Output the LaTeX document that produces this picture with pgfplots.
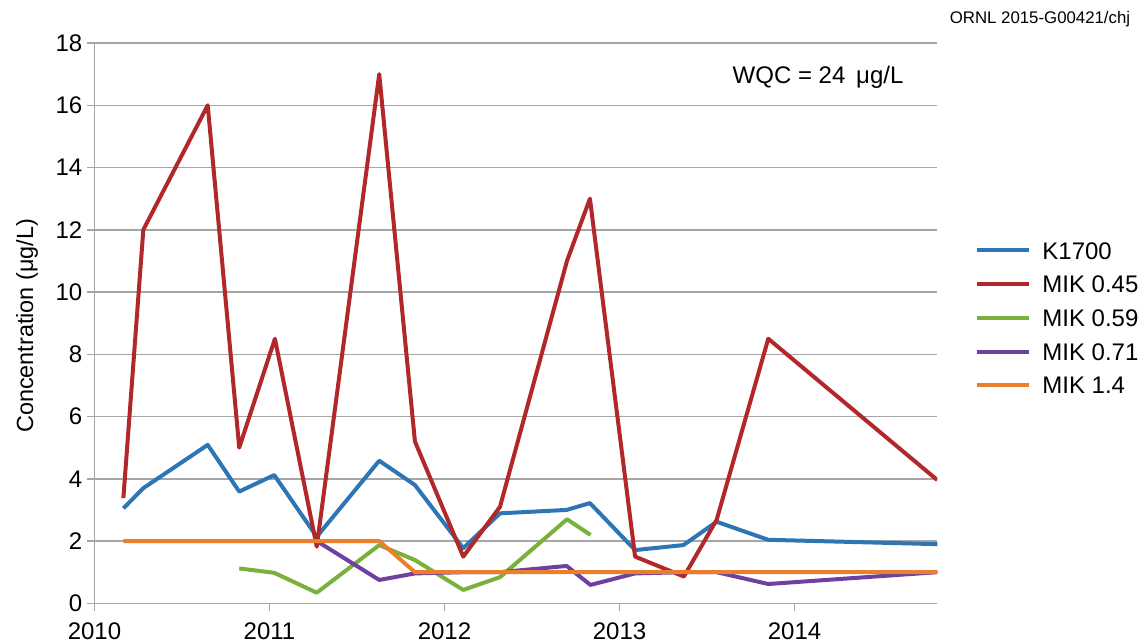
\documentclass[border=0pt]{standalone}
\usepackage{pgfplots}
\pgfplotsset{compat=1.18}
\usepackage{fontspec}
\setmainfont{Liberation Sans}

\definecolor{cK}{RGB}{46,117,182}
\definecolor{c45}{RGB}{178,40,42}
\definecolor{c59}{RGB}{122,176,60}
\definecolor{c71}{RGB}{112,64,160}
\definecolor{c14}{RGB}{234,128,44}
\definecolor{gridc}{RGB}{166,166,166}

\begin{document}
\begin{tikzpicture}
\useasboundingbox (-47.25pt,-19.85pt) rectangle (524.25pt,301.65pt);
\begin{axis}[
    at={(0,0)}, anchor=south west, scale only axis,
    width=421.4pt, height=280.15pt,
    xmin=2010, xmax=2014.816, ymin=0, ymax=18,
    axis x line=bottom, axis y line=left,
    axis line style={gridc, line width=0.75pt, -},
    xtick={2010,2011,2012,2013,2014},
    xticklabels={2010,2011,2012,2013,2014},
    ytick={0,2,...,18},
    yticklabels={0,2,4,6,8,10,12,14,16,18},
    tick align=outside, major tick length=4pt,
    tick style={gridc, line width=0.75pt},
    ymajorgrids, grid style={gridc, line width=0.75pt},
    xticklabel style={font=\fontsize{12}{14}\selectfont, inner sep=0pt, anchor=north, yshift=-5.3pt},
    yticklabel style={font=\fontsize{12}{14}\selectfont, inner sep=0pt, anchor=east, xshift=-1.9pt},
    ylabel={Concentration (μg/L)},
    ylabel style={at={(axis description cs:-0.07297,0.495)}, anchor=base, inner sep=0pt,
        font=\fontsize{11.7}{13}\selectfont},
    every axis plot/.append style={line width=2pt, line join=round},
    legend cell align=left,
    legend image code/.code={\draw[#1] (0pt,0pt) -- (26pt,0pt);},
    legend style={at={(axis description cs:1.04473,0.6459)}, anchor=north west,
        draw=none, fill=none, inner sep=0pt, row sep=8.25pt, column sep=5.5pt,
        nodes={inner sep=0pt, text height=8.6pt, text depth=0pt,
            font=\fontsize{12}{14}\selectfont}},
]
\addplot[cK] coordinates {
    (2010.165,3.05) (2010.279,3.70) (2010.647,5.09) (2010.827,3.59)
    (2011.027,4.12) (2011.270,2.14) (2011.627,4.58) (2011.831,3.80)
    (2012.107,1.77) (2012.317,2.89) (2012.698,3.00) (2012.831,3.22)
    (2013.089,1.71) (2013.365,1.87) (2013.555,2.62) (2013.850,2.04)
    (2014.816,1.90)
};
\addlegendentry{K1700}
\addplot[c45] coordinates {
    (2010.165,3.38) (2010.279,12.0) (2010.647,16.0) (2010.827,5.0)
    (2011.031,8.5) (2011.270,1.82) (2011.627,17.0) (2011.831,5.2)
    (2012.107,1.5) (2012.317,3.1) (2012.700,11.0) (2012.831,13.0)
    (2013.089,1.5) (2013.368,0.86) (2013.555,2.68) (2013.850,8.5)
    (2014.816,3.96)
};
\addlegendentry{MIK 0.45}
\addplot[c59] coordinates {
    (2010.827,1.12) (2011.027,0.98) (2011.270,0.34) (2011.627,1.87)
    (2011.831,1.39) (2012.107,0.43) (2012.317,0.84) (2012.700,2.70)
    (2012.834,2.20)
};
\addlegendentry{MIK 0.59}
\addplot[c71] coordinates {
    (2011.270,2.0) (2011.627,0.75) (2011.831,0.96) (2012.107,1.0)
    (2012.317,1.0) (2012.698,1.20) (2012.834,0.59) (2013.089,0.96)
    (2013.368,1.0) (2013.555,1.0) (2013.850,0.62) (2014.816,1.0)
};
\addlegendentry{MIK 0.71}
\addplot[c14] coordinates {
    (2010.165,2.0) (2011.627,2.0) (2011.831,1.0) (2014.816,1.0)
};
\addlegendentry{MIK 1.4}
\node[font=\fontsize{12}{14}\selectfont] at (axis description cs:0.8585,0.9393) {WQC = 24\hspace{0.45em}μg/L};
\end{axis}
\node[font=\fontsize{8.4}{10}\selectfont] at (472.75pt,292.15pt) {ORNL 2015-G00421/chj};
\end{tikzpicture}
\end{document}
